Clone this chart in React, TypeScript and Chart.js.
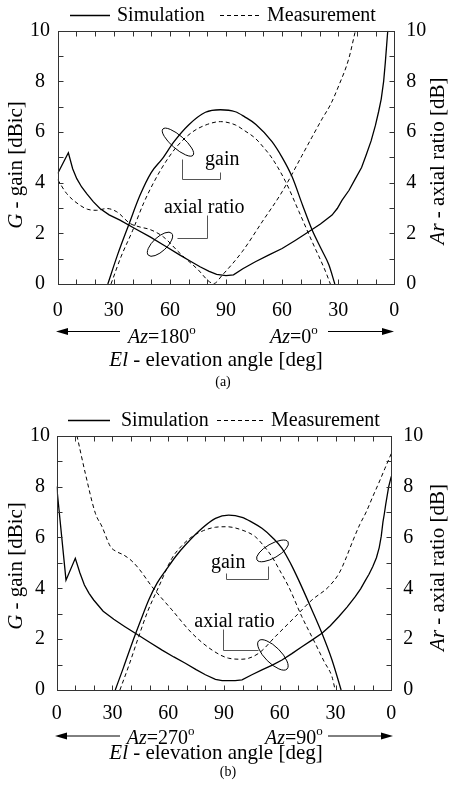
import React, { useEffect, useRef } from 'react';
import { Chart, registerables } from 'chart.js';

Chart.register(...registerables);

const FAMILY = '"Liberation Serif", "Times New Roman", Times, serif';
const W = 449;

// Elevation axis: position 0..180, 90 = zenith, right half counts back down.
const xTickLabels = ['0', '30', '60', '90', '60', '30', '0'];
const legendLabels = ['Simulation', 'Measurement'];

type Pt = [number, number];

// ---- (a) Az = 180 / 0 cut ----
const aSimGain: Pt[] = [[26.8,0],[32,1.15],[38,2.34],[44,3.5],[50,4.4],[56,4.95],[62,5.6],[70,6.28],[79,6.78],[87,6.88],[95,6.8],[100,6.6],[106,6.3],[114.6,5.62],[120,5.0],[125.3,4.24],[131,3.1],[136,2.14],[141,1.37],[145,0.76],[148.2,0]];
const aMeasGain: Pt[] = [[28.5,0],[34,1.1],[40,2.1],[46,3.2],[52,4.1],[58,4.85],[64,5.45],[72,6.0],[80,6.3],[87,6.41],[95,6.28],[100,6.05],[105.7,5.75],[110,5.4],[114.6,4.97],[121.8,4.05],[129,2.86],[136,1.68],[143.2,0.5],[145.8,0]];
const aSimAR: Pt[] = [[0,4.36],[5.7,5.18],[8,4.55],[10.2,4.16],[12.8,3.83],[15.5,3.57],[19,3.25],[22.6,2.98],[27.5,2.73],[33.3,2.52],[41,2.2],[49.4,1.86],[57,1.52],[65.4,1.14],[71,0.9],[76.1,0.68],[81,0.5],[85,0.38],[90,0.33],[94,0.36],[99,0.6],[105.7,0.88],[113,1.15],[120,1.4],[127,1.72],[134.2,2.06],[140.5,2.37],[146.7,2.72],[149.5,2.98],[152,3.3],[155.8,3.7],[159.2,4.16],[162.5,4.6],[165,5.1],[167.6,5.65],[169.9,6.26],[171.6,6.8],[173,7.3],[174.3,8.0],[175.2,8.75],[176.5,10]];
const aMeasAR: Pt[] = [[0,4.12],[4.8,3.57],[11.9,3.11],[16,2.95],[20.9,2.91],[26.2,2.98],[31.6,2.85],[38.7,2.39],[44,2.25],[49.4,2.15],[56.5,1.86],[65.4,1.21],[74.3,0.62],[83.5,0.02],[88,0.35],[98.6,1.27],[109.3,2.45],[120,3.64],[130.7,5.08],[136,5.8],[141.4,6.52],[146,7.1],[150.3,7.83],[155.6,8.88],[159.2,10]];

// ---- (b) Az = 270 / 90 cut ----
const bSimGain: Pt[] = [[31.5,0],[36,0.9],[40.5,1.83],[45,2.7],[49.5,3.54],[54,4.2],[59.4,4.78],[64,5.25],[69.2,5.7],[78.2,6.36],[85.4,6.75],[92.5,6.88],[99.7,6.79],[105,6.6],[110.4,6.36],[116,6.0],[121.2,5.57],[126,4.95],[130.1,4.33],[137.3,3.15],[142.7,2.23],[148.1,1.18],[153,0]];
const bMeasGain: Pt[] = [[34,0],[39,1.0],[44.1,2.1],[49,3.1],[54.9,4.06],[62,5.18],[67,5.65],[72.8,6.03],[79,6.27],[85.4,6.4],[91.4,6.42],[99.7,6.29],[106.8,6.03],[111,5.7],[115.8,5.24],[120,4.7],[124.8,4.06],[131.9,2.88],[139.1,1.83],[144,1.1],[148.1,0.52],[149.8,0]];
const bSimAR: Pt[] = [[0,8.0],[5,4.32],[10,5.18],[12.5,4.6],[14.9,4.13],[17.4,3.8],[19.9,3.54],[25,3.1],[30.7,2.78],[36.5,2.5],[42.3,2.23],[49.5,1.9],[56.7,1.57],[63,1.3],[69.2,1.05],[75,0.8],[80,0.6],[85.4,0.42],[89,0.37],[92.5,0.37],[96,0.37],[99.7,0.4],[105,0.6],[110.4,0.79],[116,0.98],[121.2,1.18],[126.5,1.43],[131.9,1.7],[137.3,1.96],[142.7,2.23],[147.2,2.53],[151.7,2.88],[156.2,3.26],[160.6,3.67],[163.5,3.98],[166,4.3],[168,4.55],[170,4.85],[172,5.2],[173.5,5.6],[174.6,6.05],[175.5,6.6],[176.3,6.95],[177,7.3],[178.6,8.0],[180,8.4]];
const bMeasAR: Pt[] = [[10.9,10],[15.4,8.52],[20.8,6.95],[24.4,6.42],[28.9,5.64],[32,5.45],[36,5.31],[40,5.1],[44.1,4.78],[51.3,4.06],[62,3.15],[72.8,2.23],[83.6,1.57],[92.5,1.25],[99.7,1.21],[108.6,1.44],[117.6,2.1],[128.3,2.88],[137.3,3.54],[146.3,4.06],[152,4.6],[155.2,5.11],[159.5,5.9],[163,6.5],[166.5,7.0],[170,7.6],[173.2,8.13],[176.5,8.7],[180,9.3]];

type Panel = {
  simGain: Pt[]; measGain: Pt[]; simAR: Pt[]; measAR: Pt[];
  canvasTop: number; height: number;
  plotLeft: number; plotRight: number; plotTop: number; plotBottom: number;
  xTickPad: number; yLeftPad: number; yRightPad: number;
  legend: number[]; legendY: number;
  azLeft: string; azRight: string; caption: string;
  arrowY: number; leftArrow: number[]; rightArrow: number[];
  azBaseline: number; azLeftX: number; azRightX: number;
  elBaseline: number; captionBaseline: number; captionX: number;
  leftTitle: number[]; rightTitle: number[];
  gainLoop: number[]; gainText: number[]; gainLeader: Pt[];
  arLoop: number[]; arText: number[]; arLeader: Pt[];
};

const panelA: Panel = {
  simGain: aSimGain, measGain: aMeasGain, simAR: aSimAR, measAR: aMeasAR,
  canvasTop: 0, height: 405,
  plotLeft: 57.7, plotRight: 394.3, plotTop: 30.7, plotBottom: 284,
  xTickPad: 15, yLeftPad: 7.7, yRightPad: 12,
  legend: [70, 110, 117, 220, 262, 267], legendY: 15.5,
  azLeft: '180', azRight: '0', caption: '(a)',
  arrowY: 331.5, leftArrow: [120, 56], rightArrow: [328, 394],
  azBaseline: 343, azLeftX: 128, azRightX: 270,
  elBaseline: 366, captionBaseline: 385.5, captionX: 223,
  leftTitle: [21.5, 165], rightTitle: [444, 161],
  gainLoop: [64.3, 5.6, 20, 6.5, 41], gainText: [78.8, 4.69],
  gainLeader: [[66.3, 4.92], [66.3, 4.13], [86.8, 4.13], [86.8, 4.41]],
  arLoop: [54.7, 1.57, 16, 7, -43], arText: [56.8, 2.8],
  arLeader: [[80.1, 2.72], [80.1, 1.8], [63.8, 1.8]],
};

const panelB: Panel = {
  simGain: bSimGain, measGain: bMeasGain, simAR: bSimAR, measAR: bMeasAR,
  canvasTop: 405, height: 389,
  plotLeft: 56.7, plotRight: 391.3, plotTop: 30.7, plotBottom: 285,
  xTickPad: 12, yLeftPad: 6.7, yRightPad: 12,
  legend: [68, 110, 121, 217, 263, 271], legendY: 15.5,
  azLeft: '270', azRight: '90', caption: '(b)',
  arrowY: 331, leftArrow: [120, 55], rightArrow: [328, 393],
  azBaseline: 339, azLeftX: 126.7, azRightX: 265,
  elBaseline: 354, captionBaseline: 371, captionX: 228,
  leftTitle: [21.5, 161], rightTitle: [444, 162.5],
  gainLoop: [116.1, 5.47, 18, 7, -30], gainText: [83, 4.8],
  gainLeader: [[91.1, 4.6], [91.1, 4.35], [113.7, 4.35], [113.7, 4.88]],
  arLoop: [116.3, 1.38, 20, 8, 45], arText: [74, 2.48],
  arLeader: [[89.6, 2.4], [89.6, 1.57], [108.4, 1.57]],
};

type Run = { t: string; it?: boolean; size?: number; dy?: number };
const fontOf = (r: Run, base: number) => `${r.it ? 'italic ' : ''}${r.size ?? base}px ${FAMILY}`;

function drawRuns(ctx: CanvasRenderingContext2D, runs: Run[], x: number, y: number, align: string, base: number) {
  let total = 0;
  const widths = runs.map((r) => {
    ctx.font = fontOf(r, base);
    const w = ctx.measureText(r.t).width;
    total += w;
    return w;
  });
  let cx = align === 'center' ? x - total / 2 : align === 'right' ? x - total : x;
  ctx.textAlign = 'left';
  runs.forEach((r, i) => {
    ctx.font = fontOf(r, base);
    ctx.fillText(r.t, cx, y + (r.dy ?? 0));
    cx += widths[i];
  });
}

function seg(ctx: CanvasRenderingContext2D, x1: number, y1: number, x2: number, y2: number) {
  ctx.beginPath();
  ctx.moveTo(x1, y1);
  ctx.lineTo(x2, y2);
  ctx.stroke();
}

function arrow(ctx: CanvasRenderingContext2D, x1: number, x2: number, y: number) {
  const dir = Math.sign(x2 - x1);
  seg(ctx, x1, y, x2 - dir * 10, y);
  ctx.beginPath();
  ctx.moveTo(x2, y);
  ctx.lineTo(x2 - dir * 12, y - 3.5);
  ctx.lineTo(x2 - dir * 12, y + 3.5);
  ctx.closePath();
  ctx.fill();
}

function makeDecor(p: Panel) {
  return {
    id: 'decor',
    afterDraw(chart: any) {
      const ctx: CanvasRenderingContext2D = chart.ctx;
      const { left, right, top, bottom } = chart.chartArea;
      const xs = chart.scales.x;
      const ys = chart.scales.y;
      const X = (v: number) => xs.getPixelForValue(v);
      const Y = (v: number) => ys.getPixelForValue(v);
      ctx.save();

      // frame + inward ticks
      ctx.strokeStyle = '#333';
      ctx.lineWidth = 1;
      const L = Math.round(left) + 0.5, R = Math.round(right) + 0.5;
      const T = Math.round(top) + 0.5, B = Math.round(bottom) + 0.5;
      ctx.strokeRect(L, T, R - L, B - T);
      for (let d = 0; d <= 180; d += 10) {
        const px = Math.round(X(d)) + 0.5;
        seg(ctx, px, T, px, T + 5);
        seg(ctx, px, B, px, B - 5);
      }
      for (let v = 0; v <= 10; v += 1) {
        const py = Math.round(Y(v)) + 0.5;
        seg(ctx, L, py, L + 5, py);
        seg(ctx, R, py, R - 5, py);
      }

      ctx.fillStyle = '#000';
      ctx.strokeStyle = '#000';
      ctx.textBaseline = 'alphabetic';

      // legend
      const [s0, s1, t1, d0, d1, t2] = p.legend;
      const ly = p.legendY;
      ctx.lineWidth = 1.3;
      ctx.setLineDash([]);
      seg(ctx, s0, ly, s1, ly);
      ctx.lineWidth = 1;
      ctx.setLineDash([4, 3]);
      seg(ctx, d0, ly, d1, ly);
      ctx.setLineDash([]);
      ctx.textBaseline = 'middle';
      drawRuns(ctx, [{ t: legendLabels[0] }], t1, ly, 'left', 20);
      drawRuns(ctx, [{ t: legendLabels[1] }], t2, ly, 'left', 20);
      ctx.textBaseline = 'alphabetic';

      // axis titles
      ctx.save();
      ctx.translate(p.leftTitle[0], p.leftTitle[1]);
      ctx.rotate(-Math.PI / 2);
      drawRuns(ctx, [{ t: 'G', it: true }, { t: ' - gain [dBic]' }], 0, 0, 'center', 21);
      ctx.restore();
      ctx.save();
      ctx.translate(p.rightTitle[0], p.rightTitle[1]);
      ctx.rotate(-Math.PI / 2);
      drawRuns(ctx, [{ t: 'Ar', it: true }, { t: ' - axial ratio [dB]' }], 0, 0, 'center', 21);
      ctx.restore();

      // azimuth arrows
      ctx.lineWidth = 1;
      arrow(ctx, p.leftArrow[0], p.leftArrow[1], p.arrowY);
      arrow(ctx, p.rightArrow[0], p.rightArrow[1], p.arrowY);
      drawRuns(ctx, [{ t: 'Az', it: true }, { t: '=' + p.azLeft }, { t: 'o', size: 13, dy: -9 }], p.azLeftX, p.azBaseline, 'left', 20);
      drawRuns(ctx, [{ t: 'Az', it: true }, { t: '=' + p.azRight }, { t: 'o', size: 13, dy: -9 }], p.azRightX, p.azBaseline, 'left', 20);

      // x title and caption
      drawRuns(ctx, [{ t: 'El', it: true }, { t: ' - elevation angle [deg]' }], 216, p.elBaseline, 'center', 21);
      drawRuns(ctx, [{ t: p.caption }], p.captionX, p.captionBaseline, 'center', 14);

      // annotations: loops + leaders
      ctx.lineWidth = 1;
      const loops = [p.gainLoop, p.arLoop];
      loops.forEach(([cx, cv, rx, ry, rot]) => {
        ctx.beginPath();
        ctx.ellipse(X(cx), Y(cv), rx, ry, (rot * Math.PI) / 180, 0, Math.PI * 2);
        ctx.stroke();
      });
      ctx.strokeStyle = '#555';
      [p.gainLeader, p.arLeader].forEach((pts) => {
        ctx.beginPath();
        pts.forEach(([d, v], i) => {
          const px = Math.round(X(d)) + 0.5, py = Math.round(Y(v)) + 0.5;
          if (i === 0) ctx.moveTo(px, py); else ctx.lineTo(px, py);
        });
        ctx.stroke();
      });
      drawRuns(ctx, [{ t: 'gain' }], X(p.gainText[0]), Y(p.gainText[1]), 'left', 20);
      drawRuns(ctx, [{ t: 'axial ratio' }], X(p.arText[0]), Y(p.arText[1]), 'left', 20);

      ctx.restore();
    },
  };
}

const line = (label: string, pts: Pt[], axis: string, dashed: boolean, smooth: boolean) => ({
  label,
  data: pts.map(([x, y]) => ({ x, y })),
  yAxisID: axis,
  borderColor: '#000',
  borderWidth: dashed ? 1 : 1.3,
  borderDash: dashed ? [4, 3] : [],
  pointRadius: 0,
  fill: false,
  tension: 0,
  cubicInterpolationMode: smooth ? 'monotone' : 'default',
});

function buildConfig(p: Panel): any {
  const tickFont = { family: FAMILY, size: 20 };
  return {
    type: 'line',
    data: {
      datasets: [
        line('Simulation gain', p.simGain, 'y', false, true),
        line('Measurement gain', p.measGain, 'y', true, true),
        line('Simulation axial ratio', p.simAR, 'y2', false, false),
        line('Measurement axial ratio', p.measAR, 'y2', true, true),
      ],
    },
    options: {
      responsive: false,
      animation: false,
      devicePixelRatio: 1,
      layout: { padding: { top: p.plotTop, left: 0, right: 0, bottom: 0 } },
      plugins: { legend: { display: false }, tooltip: { enabled: false } },
      scales: {
        x: {
          type: 'linear', min: 0, max: 180,
          ticks: {
            stepSize: 30, autoSkip: false, maxRotation: 0, color: '#000', font: tickFont,
            padding: p.xTickPad,
            callback: (_v: number, i: number) => xTickLabels[i],
          },
          grid: { display: false, drawTicks: false },
          border: { display: false },
          afterFit: (s: any) => { s.height = p.height - p.plotBottom; },
        },
        y: {
          position: 'left', min: 0, max: 10,
          ticks: { stepSize: 2, color: '#000', font: tickFont, crossAlign: 'center', padding: p.yLeftPad },
          grid: { display: false, drawTicks: false },
          border: { display: false },
          afterFit: (s: any) => { s.width = p.plotLeft; },
        },
        y2: {
          position: 'right', min: 0, max: 10,
          ticks: { stepSize: 2, color: '#000', font: tickFont, padding: p.yRightPad },
          grid: { display: false, drawTicks: false },
          border: { display: false },
          afterFit: (s: any) => { s.width = W - p.plotRight; },
        },
      },
    },
    plugins: [makeDecor(p)],
  };
}

function PanelChart({ p }: { p: Panel }) {
  const ref = useRef<HTMLCanvasElement>(null);
  useEffect(() => {
    if (!ref.current) return;
    const chart = new Chart(ref.current, buildConfig(p));
    return () => chart.destroy();
  }, [p]);
  return (
    <canvas
      ref={ref}
      width={W}
      height={p.height}
      style={{ position: 'absolute', left: 0, top: p.canvasTop, width: W, height: p.height }}
    />
  );
}

export default function App() {
  return (
    <div style={{ position: 'absolute', left: 0, top: 0, width: W, height: 794, background: '#fff', overflow: 'hidden' }}>
      <PanelChart p={panelA} />
      <PanelChart p={panelB} />
    </div>
  );
}
